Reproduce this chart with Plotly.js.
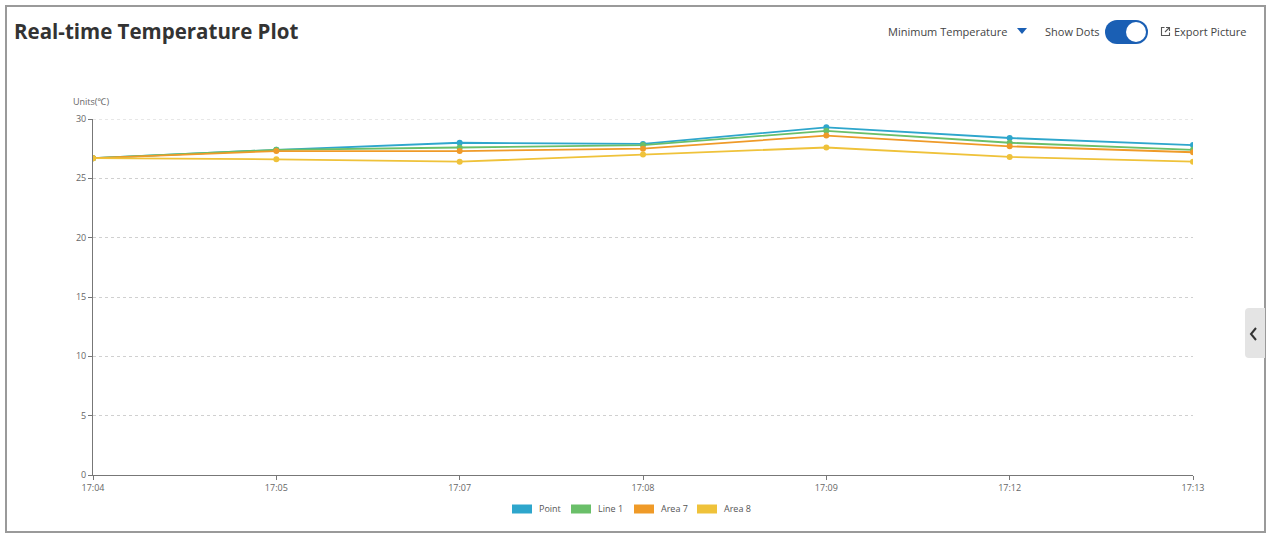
<!DOCTYPE html>
<html>
<head>
<meta charset="utf-8">
<script src="https://cdn.plot.ly/plotly-3.0.1.min.js"></script>
<style>
html,body{margin:0;padding:0;background:#fff;}
#wrap{position:relative;width:1267px;height:534px;overflow:hidden;background:#fff;}
#chart{position:absolute;left:0;top:0;width:1267px;height:534px;}
#frame{position:absolute;left:5px;top:5px;width:1261px;height:528px;border:2px solid #9a9a9a;box-sizing:border-box;pointer-events:none;}
.ctl{position:absolute;font-family:"Open Sans","Noto Sans",sans-serif;font-size:11px;color:#444;white-space:nowrap;line-height:14px;}
#toggle{position:absolute;left:1105px;top:20px;width:43px;height:24px;border-radius:12px;background:#1a5fb4;}
#knob{position:absolute;right:2px;top:2px;width:20px;height:20px;border-radius:50%;background:#fff;}
#tab{position:absolute;left:1245px;top:308px;width:20px;height:50px;background:#e4e4e4;border-radius:4px 0 0 4px;}
</style>
</head>
<body>
<div id="wrap">
  <div id="chart"></div>
  <div id="frame"></div>
  <div class="ctl" style="left:888px;top:25px;">Minimum Temperature</div>
  <svg style="position:absolute;left:1017px;top:28px" width="10" height="7"><path d="M0,0 L10,0 L5,6 Z" fill="#1a5fb4"/></svg>
  <div class="ctl" style="left:1045px;top:25px;">Show Dots</div>
  <div id="toggle"><div id="knob"></div></div>
  <svg style="position:absolute;left:1160px;top:26px" width="11" height="11"><path d="M4.5,1.5 H1.5 V9.5 H9.5 V6.5 M6,1.5 H9.5 V5 M9.5,1.5 L5,6" stroke="#555" stroke-width="1.1" fill="none"/></svg>
  <div class="ctl" style="left:1174px;top:25px;">Export Picture</div>
  <div id="tab"></div>
  <svg style="position:absolute;left:1248px;top:325px" width="12" height="18"><path d="M8,3 L3,9 L8,15" stroke="#333" stroke-width="2" fill="none"/></svg>
</div>
<script>
// ---- data ----
const times = ['17:04', '17:05', '17:07', '17:08', '17:09', '17:12', '17:13'];
const seriesNames = ['Point', 'Line 1', 'Area 7', 'Area 8'];
const pointVals = [26.7, 27.4, 28.0, 27.9, 29.3, 28.4, 27.8];
const line1Vals = [26.7, 27.4, 27.6, 27.8, 29.0, 28.0, 27.4];
const area7Vals = [26.7, 27.3, 27.3, 27.5, 28.6, 27.7, 27.2];
const area8Vals = [26.7, 26.6, 26.4, 27.0, 27.6, 26.8, 26.4];
const yTicks = [0, 5, 10, 15, 20, 25, 30];
const yMax = 30;
const unitLabel = 'Units(℃)';
const chartTitle = 'Real-time Temperature Plot';

const colors = ['#2ea6cc', '#6abf69', '#ef9a28', '#efc23a'];
const allVals = [pointVals, line1Vals, area7Vals, area8Vals];

const W = 1267, H = 534;
const M = {l: 93, r: 74, t: 119, b: 59};
const pw = W - M.l - M.r, ph = H - M.t - M.b;
const px2x = p => (p - M.l) / pw;
const px2y = p => (H - M.b - p) / ph;

const traces = allVals.map((vals, i) => ({
  type: 'scatter',
  mode: 'lines+markers',
  name: seriesNames[i],
  x: times,
  y: vals,
  line: {color: colors[i], width: 1.8},
  marker: {color: colors[i], size: 6},
  showlegend: false,
  hoverinfo: 'skip'
}));

// top gridline (plotly omits the one on the plot edge)
const shapes = [{type: 'line', xref: 'paper', yref: 'y', x0: 0, x1: 1, y0: yMax, y1: yMax,
  line: {color: '#d0d0d0', width: 1, dash: '3px,3px'}, layer: 'below'}];
const annotations = [];
// custom legend (rect swatches + labels)
const legendStarts = [512, 571, 634, 697];
seriesNames.forEach((n, i) => {
  const x0 = legendStarts[i];
  shapes.push({type: 'rect', xref: 'paper', yref: 'paper',
    x0: px2x(x0), x1: px2x(x0 + 20), y0: px2y(513.5), y1: px2y(504.5),
    fillcolor: colors[i], line: {width: 0}});
  annotations.push({xref: 'paper', yref: 'paper', x: px2x(x0 + 25), y: px2y(509),
    xanchor: 'left', yanchor: 'middle', showarrow: false, text: n,
    font: {size: 9, color: '#555', family: 'Open Sans, Noto Sans, sans-serif'}});
});
annotations.push({xref: 'paper', yref: 'paper', x: px2x(71), y: px2y(101),
  xanchor: 'left', yanchor: 'middle', showarrow: false, text: unitLabel,
  font: {size: 9, color: '#666', family: 'Open Sans, Noto Sans, sans-serif'}});

const layout = {
  width: W, height: H,
  margin: M,
  paper_bgcolor: 'rgba(0,0,0,0)',
  plot_bgcolor: '#fff',
  showlegend: false,
  title: {text: '<b>' + chartTitle + '</b>', x: 14 / W, xanchor: 'left', y: 1 - 32 / H, yanchor: 'middle',
    font: {size: 20.5, color: '#333', family: 'Open Sans, Noto Sans, sans-serif'}},
  font: {family: 'Open Sans, Noto Sans, sans-serif', size: 9, color: '#666'},
  xaxis: {
    type: 'category', range: [0, times.length - 1],
    showline: true, linecolor: '#777', linewidth: 1,
    ticks: 'outside', ticklen: 4, tickcolor: '#777',
    showgrid: false, zeroline: false,
    tickfont: {size: 9, color: '#666'}
  },
  yaxis: {
    range: [0, yMax], tickvals: yTicks,
    showline: true, linecolor: '#777', linewidth: 1,
    ticks: 'outside', ticklen: 4, tickcolor: '#777',
    showgrid: true, gridcolor: '#d0d0d0', griddash: '3px,3px', gridwidth: 1,
    zeroline: false,
    tickfont: {size: 9, color: '#666'}
  },
  shapes: shapes,
  annotations: annotations
};

Plotly.newPlot('chart', traces, layout, {staticPlot: true, displayModeBar: false});
</script>
</body>
</html>
